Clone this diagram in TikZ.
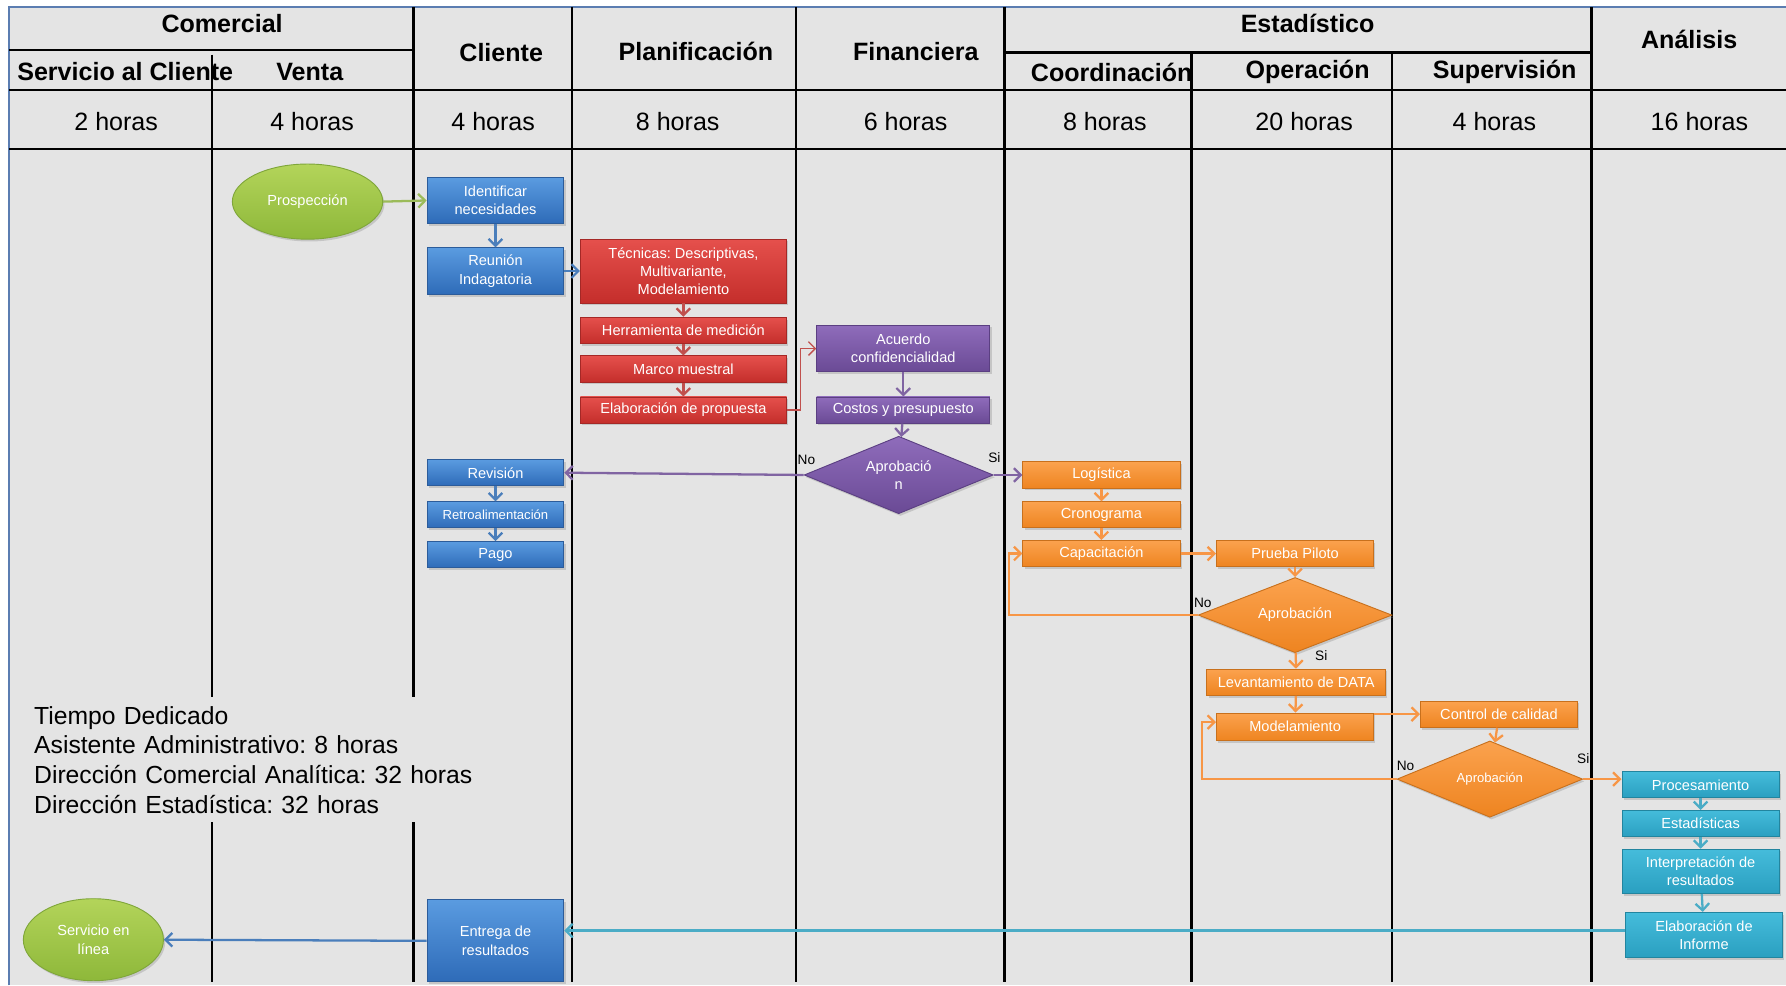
\documentclass[tikz,border=0pt]{standalone}
\usepackage{fontspec}
\setmainfont{Liberation Sans}
\usetikzlibrary{shapes,arrows,arrows.meta,calc,shadows}
\frenchspacing

\definecolor{fondo}{HTML}{E4E4E4}
\definecolor{marcoazul}{HTML}{5B7DB1}
\definecolor{azulclaro}{HTML}{5A9BE0}
\definecolor{azuloscuro}{HTML}{2E6BB8}
\definecolor{azulborde}{HTML}{2C5C9A}
\definecolor{azulflecha}{HTML}{4A7EBB}
\definecolor{rojoclaro}{HTML}{E5504C}
\definecolor{rojooscuro}{HTML}{C42E2B}
\definecolor{rojoborde}{HTML}{A52826}
\definecolor{rojoflecha}{HTML}{C0504D}
\definecolor{moradoclaro}{HTML}{8F6CBB}
\definecolor{moradooscuro}{HTML}{6A4A95}
\definecolor{moradoborde}{HTML}{5B3F82}
\definecolor{moradoflecha}{HTML}{8064A2}
\definecolor{naranjaclaro}{HTML}{FBA24E}
\definecolor{naranjaoscuro}{HTML}{EE8420}
\definecolor{naranjaborde}{HTML}{C8701C}
\definecolor{naranjaflecha}{HTML}{F79646}
\definecolor{celesteclaro}{HTML}{45BCDB}
\definecolor{celesteoscuro}{HTML}{2A9FC0}
\definecolor{celesteborde}{HTML}{22859F}
\definecolor{celesteflecha}{HTML}{4BACC6}
\definecolor{verdeclaro}{HTML}{B3D45A}
\definecolor{verdeoscuro}{HTML}{8EB83A}
\definecolor{verdeborde}{HTML}{7FA63A}
\definecolor{verdeflecha}{HTML}{9BBB59}

\tikzset{
  linea/.style={line width=2.2pt, black},
  marco/.style={line width=1.5pt, marcoazul},
  titulo/.style={font=\fontsize{22}{26}\selectfont\bfseries, inner sep=0pt},
  horas/.style={font=\fontsize{22}{26}\selectfont, inner sep=0pt},
  caja/.style={rectangle, text=white, align=center, inner sep=0pt, line width=0.8pt,
    font=\fontsize{12.8}{16}\selectfont,
    drop shadow={shadow xshift=1.5pt, shadow yshift=-2pt, opacity=0.3}},
  azul/.style={caja, top color=azulclaro, bottom color=azuloscuro, draw=azulborde},
  rojo/.style={caja, top color=rojoclaro, bottom color=rojooscuro, draw=rojoborde},
  morado/.style={caja, top color=moradoclaro, bottom color=moradooscuro, draw=moradoborde},
  naranja/.style={caja, top color=naranjaclaro, bottom color=naranjaoscuro, draw=naranjaborde},
  celeste/.style={caja, top color=celesteclaro, bottom color=celesteoscuro, draw=celesteborde},
  verde/.style={caja, ellipse, top color=verdeclaro, bottom color=verdeoscuro, draw=verdeborde},
  rombo/.style={diamond, aspect=2.4},
  etiqueta/.style={font=\fontsize{12}{14}\selectfont, inner sep=0pt},
  tiempo/.style={fill=fondo, align=left, text width=390pt, inner xsep=10pt,
    minimum height=110pt, font=\fontsize{21.7}{26}\selectfont},
  flecha/.style={line width=2pt, -{Straight Barb[length=6pt,width=12pt]}},
}

\begin{document}
\begin{tikzpicture}[x=1pt,y=-1pt]
\useasboundingbox (0,0) rectangle (1568,865);
% fondo y marco
\fill[fondo] (8,6) rectangle (1568,865);
\draw[marco] (8,865) -- (8,6) -- (1568,6);

% lineas del encabezado
\draw[linea] (8,44) -- (363,44);
\draw[linea] (882,46) -- (1397,46);
\draw[linea] (8,79) -- (1568,79);
\draw[linea] (8,131) -- (1568,131);

% carriles
\draw[linea] (186,48) -- (186,862);
\foreach \x in {363,502,699,882,1397}
  \draw[linea] (\x,6) -- (\x,862);
\foreach \x in {1046,1222}
  \draw[linea] (\x,46) -- (\x,862);

% encabezados
\node[titulo] (comercial) at (195,21) {Comercial};
\node[titulo, anchor=west] (servcliente) at (15,63) {Servicio al Cliente};
\node[titulo] (venta) at (272,63) {Venta};
\node[titulo] (cliente) at (440,46) {Cliente};
\node[titulo] (planificacion) at (611,45) {Planificación};
\node[titulo] (financiera) at (804,45) {Financiera};
\node[titulo] (estadistico) at (1148,21) {Estadístico};
\node[titulo] (coordinacion) at (976,64) {Coordinación};
\node[titulo] (operacion) at (1148,63) {Operación};
\node[titulo] (supervision) at (1321,63) {Supervisión};
\node[titulo] (analisis) at (1483,35) {Análisis};

\foreach \x/\h [count=\i] in {102/2,274/4,433/4,595/8,795/6,970/8,1145/20,1312/4,1492/16}
  \node[horas] (horas\i) at (\x,107) {\h\ horas};

% tiempo dedicado
\node[tiempo] (tiempo) at (225,667) {Tiempo Dedicado\\Asistente Administrativo: 8 horas\\Dirección Comercial Analítica: 32 horas\\Dirección Estadística: 32 horas};

% cliente
\node[verde, minimum width=132pt, minimum height=66pt] (prosp) at (270,177) {Prospección};
\node[azul, minimum width=120pt, minimum height=40pt] (identificar) at (435,176) {Identificar\\necesidades};
\node[azul, minimum width=120pt, minimum height=41pt] (reunion) at (435,238) {Reunión\\Indagatoria};
\node[azul, minimum width=120pt, minimum height=23pt] (revision) at (435,415) {Revisión};
\node[azul, minimum width=120pt, minimum height=23pt, font=\fontsize{11.5}{14}\selectfont] (retro) at (435,452) {Retroalimentación};
\node[azul, minimum width=120pt, minimum height=23pt] (pago) at (435,487) {Pago};
\node[azul, minimum width=120pt, minimum height=72pt] (entrega) at (435,826) {Entrega de\\resultados};
\node[verde, minimum width=123pt, minimum height=72pt] (servicio) at (82,825) {Servicio en\\línea};

% planificacion
\node[rojo, minimum width=181pt, minimum height=56pt] (tecnicas) at (600,238) {Técnicas: Descriptivas,\\Multivariante,\\Modelamiento};
\node[rojo, minimum width=181pt, minimum height=23pt] (herramienta) at (600,290) {Herramienta de medición};
\node[rojo, minimum width=181pt, minimum height=23pt] (marco) at (600,324) {Marco muestral};
\node[rojo, minimum width=181pt, minimum height=23pt] (propuesta) at (600,360) {Elaboración de propuesta};

% financiera
\node[morado, minimum width=152pt, minimum height=41pt] (acuerdo) at (793,306) {Acuerdo\\confidencialidad};
\node[morado, minimum width=152pt, minimum height=23pt] (costos) at (793,360) {Costos y presupuesto};
\node[morado, rombo, minimum width=166pt, minimum height=68pt] (aprob1) at (789,417) {Aprobació\\n};

% estadistico
\node[naranja, minimum width=138pt, minimum height=23pt] (logistica) at (967,417) {Logística};
\node[naranja, minimum width=138pt, minimum height=23pt] (cronograma) at (967,452) {Cronograma};
\node[naranja, minimum width=138pt, minimum height=23pt] (capacitacion) at (967,486) {Capacitación};
\node[naranja, minimum width=138pt, minimum height=23pt] (piloto) at (1137,486) {Prueba Piloto};
\node[naranja, rombo, minimum width=170pt, minimum height=66pt] (aprob2) at (1137,540) {Aprobación};
\node[naranja, minimum width=157pt, minimum height=23pt] (levantamiento) at (1138,599) {Levantamiento de DATA};
\node[naranja, minimum width=138pt, minimum height=24pt] (modelamiento) at (1137,638) {Modelamiento};
\node[naranja, minimum width=138pt, minimum height=23pt] (control) at (1316,627) {Control de calidad};
\node[naranja, rombo, minimum width=163pt, minimum height=67pt, font=\fontsize{11.5}{14}\selectfont] (aprob3) at (1308,684) {Aprobación};

% analisis
\node[celeste, minimum width=138pt, minimum height=23pt] (procesamiento) at (1493,689) {Procesamiento};
\node[celeste, minimum width=138pt, minimum height=23pt] (estadisticas) at (1493,723) {Estadísticas};
\node[celeste, minimum width=138pt, minimum height=39pt] (interpretacion) at (1493,765) {Interpretación de\\resultados};
\node[celeste, minimum width=138pt, minimum height=40pt] (informe) at (1496,821) {Elaboración de\\Informe};

% etiquetas
\node[etiqueta] (no1) at (708,404) {No};
\node[etiqueta] (si1) at (873,402) {Si};
\node[etiqueta] (no2) at (1056,529) {No};
\node[etiqueta] (si2) at (1160,576) {Si};
\node[etiqueta] (no3) at (1234,672) {No};
\node[etiqueta] (si3) at (1390,666) {Si};

% conectores
\draw[flecha, verdeflecha] (prosp.east) -- (identificar.west);
\draw[flecha, azulflecha] (identificar) -- (reunion);
\draw[flecha, azulflecha] (reunion.east) -- (tecnicas.west);
\draw[flecha, rojoflecha] (tecnicas) -- (herramienta);
\draw[flecha, rojoflecha] (herramienta) -- (marco);
\draw[flecha, rojoflecha] (marco) -- (propuesta);
\draw[flecha, rojoflecha, line width=1.2pt] (propuesta.east) -- ++(12,0) |- (acuerdo.west);
\draw[flecha, moradoflecha] (acuerdo) -- (costos);
\draw[flecha, moradoflecha] (costos) -- (aprob1);
\draw[flecha, moradoflecha] (aprob1.west) -- (revision.east);
\draw[flecha, moradoflecha] (aprob1.east) -- (logistica.west);
\draw[flecha, azulflecha] (revision) -- (retro);
\draw[flecha, azulflecha] (retro) -- (pago);
\draw[flecha, naranjaflecha] (logistica) -- (cronograma);
\draw[flecha, naranjaflecha] (cronograma) -- (capacitacion);
\draw[flecha, naranjaflecha] (capacitacion) -- (piloto);
\draw[flecha, naranjaflecha] (piloto) -- (aprob2);
\draw[flecha, naranjaflecha] (aprob2.west) -- ++(-166,0) |- (capacitacion.west);
\draw[flecha, naranjaflecha] (aprob2) -- (levantamiento);
\draw[flecha, naranjaflecha] (levantamiento) -- (modelamiento);
\draw[flecha, naranjaflecha] (modelamiento.east |- control.west) -- (control.west);
\draw[flecha, naranjaflecha] (control) -- (aprob3);
\draw[flecha, naranjaflecha] (aprob3.west) -- ++(-171,0) |- ([yshift=4pt]modelamiento.west);
\draw[flecha, naranjaflecha] (aprob3.east) -- (aprob3.east -| procesamiento.west);
\draw[flecha, celesteflecha] (procesamiento) -- (estadisticas);
\draw[flecha, celesteflecha] (estadisticas) -- (interpretacion);
\draw[flecha, celesteflecha] (interpretacion) -- (informe);
\draw[flecha, celesteflecha] ([yshift=4pt]informe.west) -- ([yshift=4pt]informe.west -| entrega.east);
\draw[flecha, azulflecha] (entrega.west) -- (servicio.east);
\end{tikzpicture}
\end{document}
